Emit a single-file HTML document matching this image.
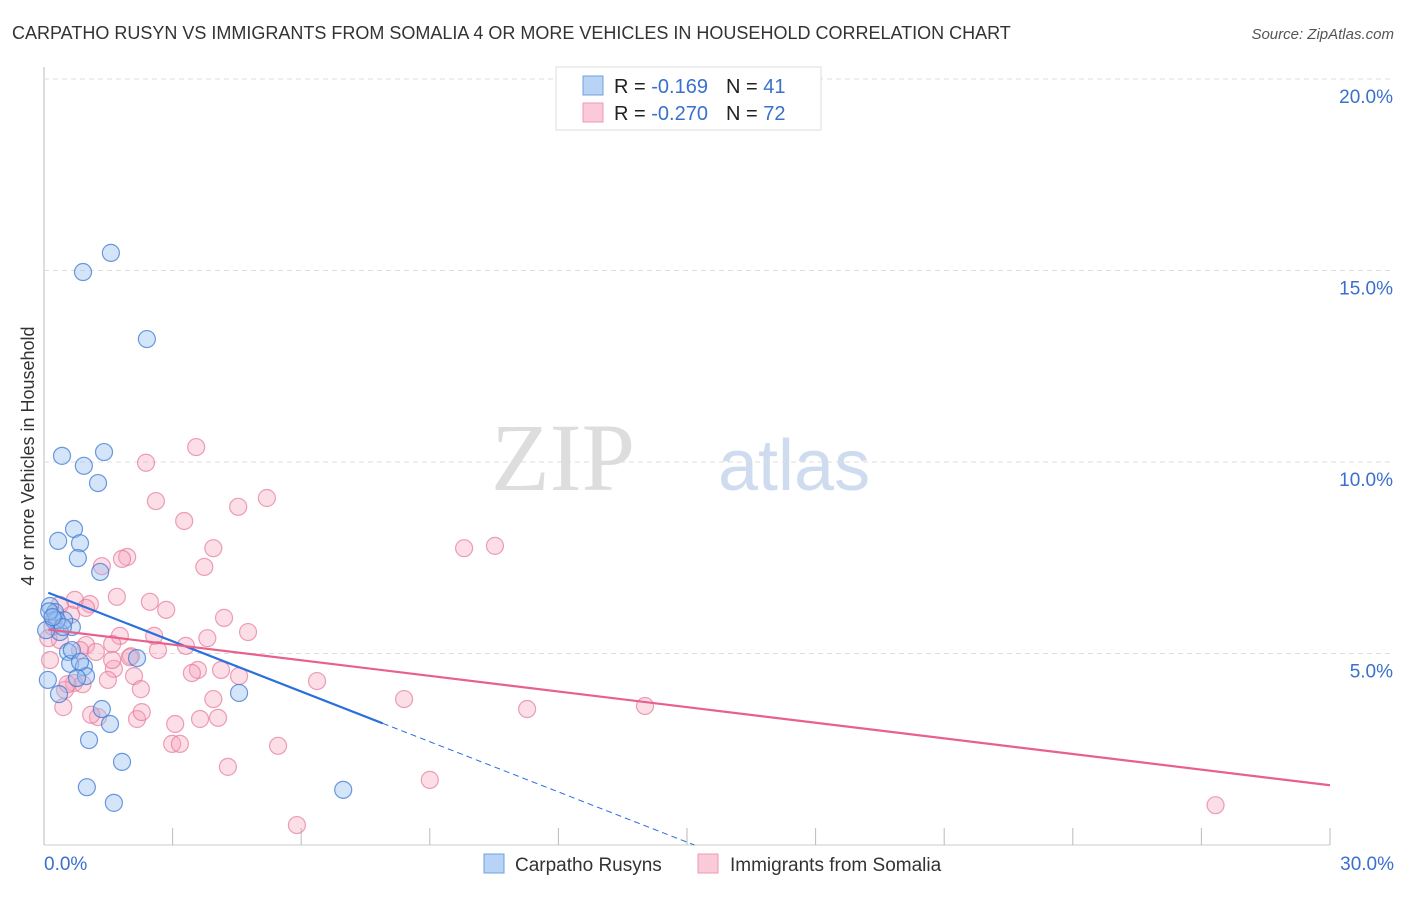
<!DOCTYPE html>
<html><head><meta charset="utf-8"><style>
body{margin:0;background:#fff;font-family:"Liberation Sans",sans-serif;}
svg text{font-family:"Liberation Sans",sans-serif;}
</style></head><body>
<svg id="chart" width="1406" height="892" xmlns="http://www.w3.org/2000/svg">
<text x="12" y="39" font-size="18" fill="#333">CARPATHO RUSYN VS IMMIGRANTS FROM SOMALIA 4 OR MORE VEHICLES IN HOUSEHOLD CORRELATION CHART</text>
<text x="1394" y="39" font-size="15" fill="#555" font-style="italic" text-anchor="end">Source: ZipAtlas.com</text>
<text x="635" y="490" font-size="96" fill="#ddd" text-anchor="end" font-family="Liberation Serif" style="font-family:'Liberation Serif',serif">ZIP</text>
<text x="718" y="490" font-size="72" fill="#cfdcf0">atlas</text>
<text transform="translate(34,456) rotate(-90)" font-size="18" fill="#333" text-anchor="middle">4 or more Vehicles in Household</text>
<g id="grid"></g><g id="pts"></g><g id="lines"></g>
<g>
<rect x="556" y="67" width="265" height="63" fill="#fff" stroke="#ddd"/>
<rect x="583" y="76" width="20" height="19" fill="#b8d3f5" stroke="#6fa0e0"/>
<rect x="583" y="103" width="20" height="19" fill="#fbcad8" stroke="#ee9ab4"/>
<text x="614" y="93" font-size="20" fill="#222">R = <tspan fill="#3a70cc"> -0.169</tspan><tspan dx="18">N = </tspan><tspan fill="#3a70cc"> 41</tspan></text>
<text x="614" y="120" font-size="20" fill="#222">R = <tspan fill="#3a70cc">-0.270</tspan><tspan dx="18">N = </tspan><tspan fill="#3a70cc">72</tspan></text>
</g>
<g>
<rect x="484" y="854" width="20" height="19" fill="#b8d3f5" stroke="#6fa0e0"/>
<text x="515" y="871" font-size="19" fill="#333">Carpatho Rusyns</text>
<rect x="698" y="854" width="20" height="19" fill="#fbcad8" stroke="#ee9ab4"/>
<text x="730" y="871" font-size="19" fill="#333">Immigrants from Somalia</text>
</g>
</svg>
<script>
const yTicks=[5,10,15,20];
const yTickLabels=["5.0%","10.0%","15.0%","20.0%"];
const xTickLabels=["0.0%","30.0%"];
const rusynX=[1.56,0.91,2.40,0.42,1.40,0.93,1.26,0.70,0.33,0.84,0.79,1.31,0.14,0.26,0.23,0.65,0.37,0.56,0.61,0.93,0.98,0.77,2.17,4.55,0.35,1.35,1.54,1.05,1.82,1.00,1.63,6.98,0.09,0.47,0.65,0.30,0.44,0.05,0.84,0.12,0.20];
const rusynY=[15.46,14.96,13.21,10.16,10.26,9.90,9.45,8.25,7.94,7.88,7.49,7.13,6.24,6.08,5.87,5.69,5.56,5.04,4.73,4.65,4.41,4.36,4.88,3.97,3.94,3.55,3.16,2.74,2.17,1.51,1.10,1.44,4.31,5.87,5.09,5.87,5.69,5.61,4.78,6.10,5.95];
const somX=[3.55,2.38,2.61,5.20,4.53,3.27,3.95,9.80,10.52,1.94,1.82,1.35,3.74,1.70,2.47,2.85,1.07,0.72,0.98,4.20,0.63,4.76,1.77,3.81,2.57,0.98,3.31,1.59,2.66,2.03,1.21,3.59,4.13,3.45,4.55,1.63,2.10,1.49,6.37,2.26,0.70,3.95,8.40,11.27,14.02,2.17,2.28,1.26,4.06,3.64,3.06,2.99,3.17,5.46,4.29,9.00,5.90,27.33,0.26,0.37,0.14,0.49,0.37,0.84,1.59,0.10,0.55,1.10,0.20,2.00,0.45,0.90];
const somY=[10.39,9.98,8.98,9.06,8.83,8.46,7.75,7.75,7.81,7.52,7.47,7.28,7.26,6.48,6.35,6.14,6.29,6.40,6.19,5.93,6.01,5.56,5.46,5.40,5.46,5.22,5.20,5.25,5.09,4.93,5.04,4.57,4.57,4.49,4.41,4.60,4.41,4.31,4.28,4.07,4.23,3.81,3.81,3.55,3.63,3.29,3.47,3.34,3.32,3.29,3.16,2.64,2.64,2.59,2.04,1.70,0.52,1.04,6.01,5.35,4.83,4.05,6.27,5.09,4.83,5.40,4.20,3.40,5.70,4.90,3.60,4.20];
const rusynLine=[6.63,-0.437]; // intercept, slope
const rusynSolidEnd=7.9;
const somLine=[5.64,-0.136];
const X=v=>44+v/30*1286;
const Y=v=>845-v/5*191.5;
const NS="http://www.w3.org/2000/svg";
function mk(tag,attrs,parent){const e=document.createElementNS(NS,tag);for(const k in attrs)e.setAttribute(k,attrs[k]);parent.appendChild(e);return e;}
const grid=document.getElementById('grid');
let ax=mk('line',{x1:44,y1:67,x2:44,y2:845,stroke:'#bbb'},grid);


let bx=mk('line',{x1:44,y1:845,x2:1330,y2:845,stroke:'#ccc'},grid);


yTicks.forEach((t,i)=>{
 const g=mk('line',{x1:44,x2:1394,y1:Y(t),y2:Y(t),stroke:'#ddd','stroke-dasharray':'5,4'},grid);
 
 
 const tx=mk('text',{x:1393,y:Y(t)+24,'font-size':19,fill:'#3a70cc','text-anchor':'end'},grid);
 tx.textContent=yTickLabels[i];
 
 
});
for(let i=0;i<=10;i++){
 const t=mk('line',{x1:X(i*3),x2:X(i*3),y1:828,y2:845,stroke:'#bbb'},grid);
 
 
}
[[0,'start',44],[30,'end',1394]].forEach((d,i)=>{
 const tx=mk('text',{x:d[2],y:870,'font-size':19,fill:'#3a70cc','text-anchor':d[1]},grid);
 tx.textContent=xTickLabels[i];
 
 
});
const pts=document.getElementById('pts');
somX.forEach((x,i)=>{
 const c=mk('circle',{cx:X(x),cy:Y(somY[i]),r:8.5,fill:'rgba(245,160,185,0.35)',stroke:'rgba(230,120,155,0.7)','stroke-width':1.2},pts);
 
 
});
rusynX.forEach((x,i)=>{
 const c=mk('circle',{cx:X(x),cy:Y(rusynY[i]),r:8.5,fill:'rgba(150,190,240,0.4)',stroke:'rgba(60,120,210,0.75)','stroke-width':1.2},pts);
 
 
});
const lines=document.getElementById('lines');
const f=(l,x)=>l[0]+l[1]*x;
let l1=mk('line',{x1:X(0.1),y1:Y(f(rusynLine,0.1)),x2:X(rusynSolidEnd),y2:Y(f(rusynLine,rusynSolidEnd)),stroke:'#2a6fdc','stroke-width':2.2},lines);


const xz=-rusynLine[0]/rusynLine[1];
let l2=mk('line',{x1:X(rusynSolidEnd),y1:Y(f(rusynLine,rusynSolidEnd)),x2:X(xz),y2:Y(0),stroke:'#2a6fdc','stroke-width':1,'stroke-dasharray':'6,4'},lines);


let l3=mk('line',{x1:X(0.1),y1:Y(f(somLine,0.1)),x2:X(30),y2:Y(f(somLine,30)),stroke:'#e8608c','stroke-width':2.2},lines);


</script>
</body></html>
